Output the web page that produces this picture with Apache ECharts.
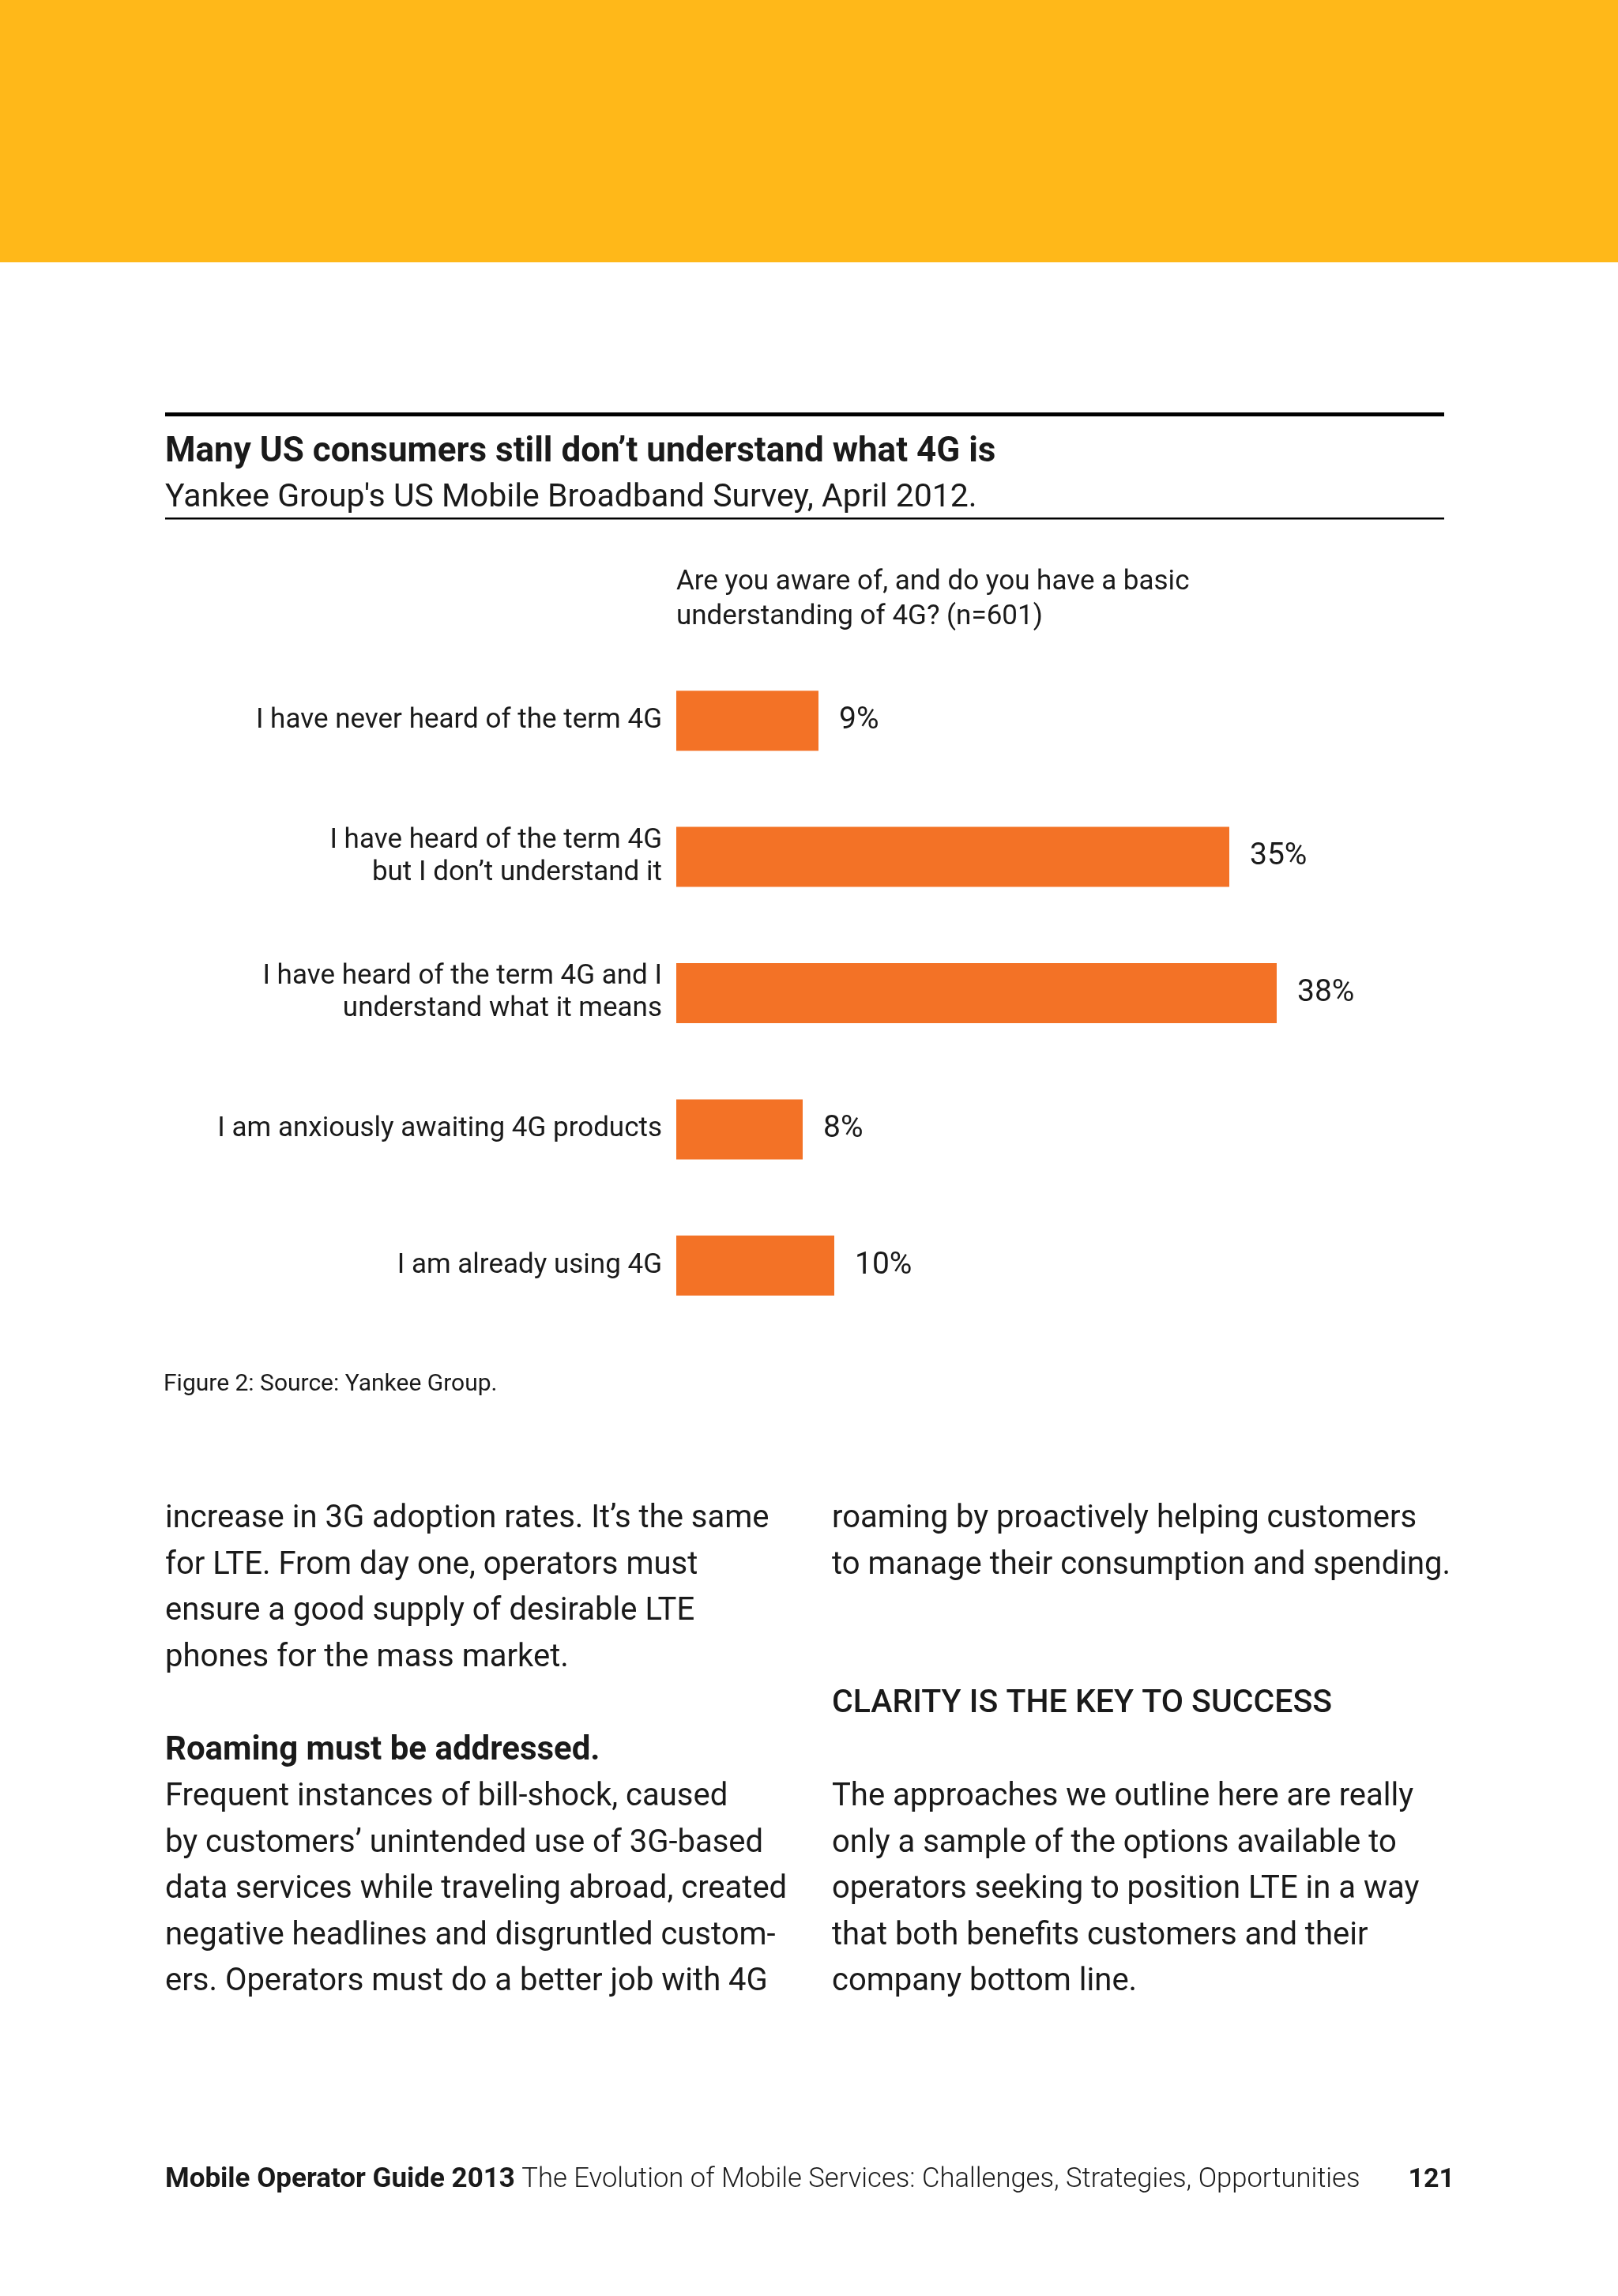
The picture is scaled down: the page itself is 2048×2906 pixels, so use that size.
<!DOCTYPE html>
<html>
<head>
<meta charset="utf-8">
<script src="https://cdn.jsdelivr.net/npm/echarts@6/dist/echarts.min.js"></script>
<style>
html,body{margin:0;padding:0;background:#fff;}
#chart{width:2048px;height:2906px;}
</style>
</head>
<body>
<div id="chart"></div>
<script>
var categories = [
  'I have never heard of the term 4G',
  'I have heard of the term 4G\nbut I don\u2019t understand it',
  'I have heard of the term 4G and I\nunderstand what it means',
  'I am anxiously awaiting 4G products',
  'I am already using 4G'
];
var values = [9, 35, 38, 8, 10];
var valueLabels = ['9%', '35%', '38%', '8%', '10%'];

var titleText = 'Many US consumers still don\u2019t understand what 4G is';
var subtitleText = "Yankee Group's US Mobile Broadband Survey, April 2012.";
var questionLines = ['Are you aware of, and do you have a basic', 'understanding of 4G? (n=601)'];
var captionText = 'Figure 2: Source: Yankee Group.';

var leftCol1 = [
  'increase in 3G adoption rates. It\u2019s the same',
  'for LTE. From day one, operators must',
  'ensure a good supply of desirable LTE',
  'phones for the mass market.'
];
var leftHeading = 'Roaming must be addressed.';
var leftCol2 = [
  'Frequent instances of bill-shock, caused',
  'by customers\u2019 unintended use of 3G-based',
  'data services while traveling abroad, created',
  'negative headlines and disgruntled custom-',
  'ers. Operators must do a better job with 4G'
];
var rightCol1 = [
  'roaming by proactively helping customers',
  'to manage their consumption and spending.'
];
var rightHeading = 'CLARITY IS THE KEY TO SUCCESS';
var rightCol2 = [
  'The approaches we outline here are really',
  'only a sample of the options available to',
  'operators seeking to position LTE in a way',
  'that both benefits customers and their',
  'company bottom line.'
];
var footerBold = 'Mobile Operator Guide 2013';
var footerLight = ' The Evolution of Mobile Services: Challenges, Strategies, Opportunities';
var pageNumber = '121';

var FONT = 'Roboto, "Noto Sans", sans-serif';
var INK = '#1a1a1a';

function textEl(text, x, y, size, weight, align) {
  return {
    type: 'text',
    x: x, y: y,
    style: {
      text: text,
      fontSize: size,
      fontFamily: FONT,
      fontWeight: weight || 'normal',
      fill: INK,
      align: align || 'left',
      verticalAlign: 'middle'
    }
  };
}

var graphics = [
  { type: 'rect', shape: { x: 0, y: 0, width: 2048, height: 332 }, style: { fill: '#FFB819' } },
  { type: 'rect', shape: { x: 209, y: 522, width: 1619, height: 5 }, style: { fill: '#000' } },
  textEl(titleText, 209, 573, 44, 'bold'),
  textEl(subtitleText, 209, 631, 41, 'normal'),
  { type: 'rect', shape: { x: 209, y: 655, width: 1619, height: 2.5 }, style: { fill: '#000' } },
  textEl(questionLines[0], 856, 737, 35),
  textEl(questionLines[1], 856, 781, 35),
  textEl(captionText, 207, 1752, 30)
];

var bodyY1 = [1923, 1982, 2040, 2099];
leftCol1.forEach(function (t, i) { graphics.push(textEl(t, 209, bodyY1[i], 40)); });
graphics.push(textEl(leftHeading, 209, 2216, 42, 'bold'));
var bodyY2 = [2275, 2334, 2392, 2451, 2509];
leftCol2.forEach(function (t, i) { graphics.push(textEl(t, 209, bodyY2[i], 40)); });
rightCol1.forEach(function (t, i) { graphics.push(textEl(t, 1053, bodyY1[i], 40)); });
graphics.push(textEl(rightHeading, 1053, 2157, 41, 500));
rightCol2.forEach(function (t, i) { graphics.push(textEl(t, 1053, bodyY2[i], 40)); });

graphics.push({
  type: 'text', x: 209, y: 2759,
  style: {
    text: '{b|' + footerBold + '}{l|' + footerLight + '}',
    verticalAlign: 'middle',
    rich: {
      b: { fontSize: 35, fontWeight: 'bold', fontFamily: FONT, fill: INK },
      l: { fontSize: 34.6, fontWeight: 300, fontFamily: FONT, fill: INK }
    }
  }
});
graphics.push(textEl(pageNumber, 1841, 2759, 34, 'bold', 'right'));

var chart = echarts.init(document.getElementById('chart'), null, { renderer: 'canvas' });
chart.setOption({
  animation: false,
  backgroundColor: '#fff',
  grid: { left: 856, right: 192, top: 826, height: 862, containLabel: false },
  xAxis: {
    type: 'value', min: 0, max: 50,
    show: false
  },
  yAxis: {
    type: 'category',
    data: categories,
    inverse: true,
    axisLine: { show: false },
    axisTick: { show: false },
    splitLine: { show: false },
    axisLabel: {
      margin: 18,
      fontSize: 35,
      lineHeight: 41,
      fontFamily: FONT,
      color: INK,
      align: 'right'
    }
  },
  series: [{
    type: 'bar',
    data: values,
    barWidth: 76,
    itemStyle: { color: '#F37226' },
    label: {
      show: true,
      position: 'right',
      distance: 26,
      fontSize: 39,
      fontFamily: FONT,
      color: INK,
      formatter: function (p) { return valueLabels[p.dataIndex]; }
    }
  }],
  graphic: graphics
});
</script>
</body>
</html>
